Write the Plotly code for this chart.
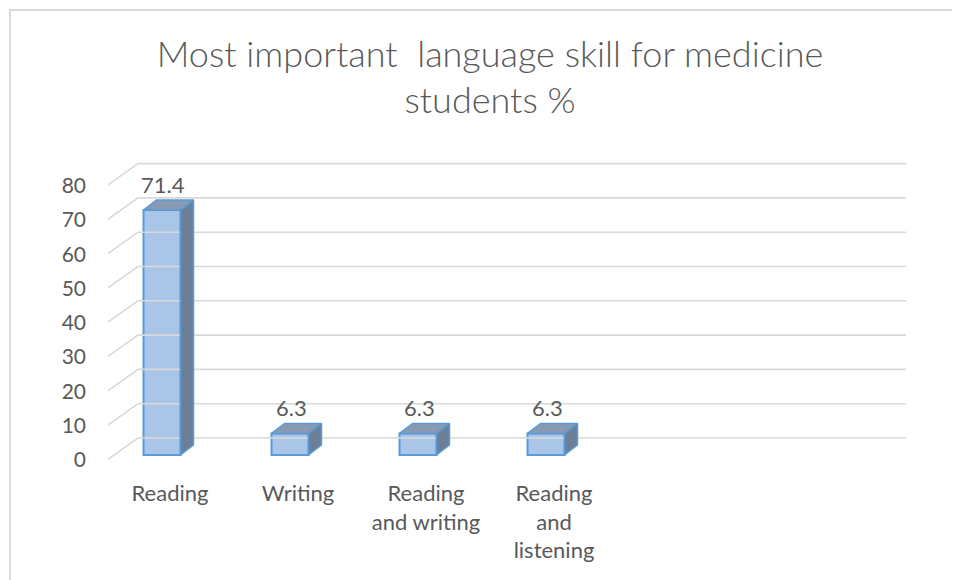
import plotly.graph_objects as go

# ---- data ----
categories = ["Reading", "Writing", "Reading<br>and writing", "Reading<br>and<br>listening"]
values = [71.4, 6.3, 6.3, 6.3]
value_labels = ["71.4", "6.3", "6.3", "6.3"]
y_ticks = [0, 10, 20, 30, 40, 50, 60, 70, 80]
title_text = "Most important  language skill for medicine<br>students %"

# ---- geometry ----
OFF = 8               # page body margin offset
W, H = 960, 580
ML, MR, MT, MB = 100, 50, 150, 110
PX_X = 128.0          # px per category
PX_Y = 3.43           # px per value unit
X0_PX = 162.0 - OFF   # pixel of category 0 front-face centre
Y0_PX = 460.0 - OFF   # pixel of value 0 on front plane
x_range = [(ML - X0_PX) / PX_X, (W - MR - X0_PX) / PX_X]
y_range = [(Y0_PX - (H - MB)) / PX_Y, (Y0_PX - MT) / PX_Y]

wall_dx = 31 / PX_X
wall_dy = 22 / PX_Y
wall_left = (107 - OFF - X0_PX) / PX_X
wall_right = (906 - OFF - X0_PX) / PX_X
bar_base = 5 / PX_Y
bar_w = 37 / PX_X
bar_dx = 13 / PX_X
bar_dy = 10 / PX_Y

GRID = "#d9d9d9"
TXT = "#595959"
FRONT = "#a9c5e8"
EDGE = "#5b9bd5"
SIDE = "#6b7f99"
TOP = "#8799b3"

fig = go.Figure()

# back wall gridlines + left wall diagonals
gx, gy = [], []
for t in y_ticks:
    gx += [wall_left, wall_left + wall_dx, wall_right, None]
    gy += [t, t + wall_dy, t + wall_dy, None]
fig.add_trace(go.Scatter(x=gx, y=gy, mode="lines", line=dict(color=GRID, width=1.6),
                         hoverinfo="skip", showlegend=False))

idx = list(range(len(categories)))

# front faces
fig.add_trace(go.Bar(x=idx, y=values, base=[bar_base] * len(values), width=bar_w,
                     marker=dict(color=FRONT, line=dict(color=EDGE, width=2)),
                     hoverinfo="skip", showlegend=False))

# side and top faces
sx, sy, tx, ty = [], [], [], []
for i, v in zip(idx, values):
    xl, xr = i - bar_w / 2, i + bar_w / 2
    b, t = bar_base, bar_base + v
    sx += [xr, xr + bar_dx, xr + bar_dx, xr, xr, None]
    sy += [b, b + bar_dy, t + bar_dy, t, b, None]
    tx += [xl, xl + bar_dx, xr + bar_dx, xr, xl, None]
    ty += [t, t + bar_dy, t + bar_dy, t, t, None]
fig.add_trace(go.Scatter(x=sx, y=sy, mode="lines", fill="toself", fillcolor=SIDE,
                         line=dict(color=EDGE, width=1.5), hoverinfo="skip", showlegend=False))
fig.add_trace(go.Scatter(x=tx, y=ty, mode="lines", fill="toself", fillcolor=TOP,
                         line=dict(color=EDGE, width=1.5), hoverinfo="skip", showlegend=False))

# value labels
for i, v, lab in zip(idx, values, value_labels):
    fig.add_annotation(x=i + 0.01, y=bar_base + v + bar_dy, text=lab, showarrow=False,
                       yanchor="middle", yshift=16, font=dict(size=22, color=TXT, family="Lato"))

fig.update_layout(
    width=W, height=H,
    margin=dict(l=ML, r=MR, t=MT, b=MB),
    paper_bgcolor="white", plot_bgcolor="white",
    font=dict(family="Lato", color=TXT),
    title=dict(text=title_text, x=(490 - OFF) / W, xanchor="center",
               y=1 - (66.5 - OFF) / H, yanchor="middle",
               font=dict(size=36, color=TXT, family="Lato", weight=300)),
    xaxis=dict(range=x_range, tickmode="array", tickvals=[i + 8 / PX_X for i in idx],
               ticktext=categories, showgrid=False, zeroline=False, showline=False,
               ticks="", tickfont=dict(size=22, color=TXT), ticklabelstandoff=0),
    yaxis=dict(range=y_range, tickmode="array", tickvals=y_ticks,
               ticktext=[str(t) for t in y_ticks], showgrid=False, zeroline=False,
               showline=False, ticks="", tickfont=dict(size=21, color=TXT),
               ticklabelstandoff=21),
    shapes=[dict(type="rect", xref="paper", yref="paper",
                 x0=(10 - OFF - ML) / (W - ML - MR), x1=(975 - ML) / (W - ML - MR),
                 y0=((H - MB) - 600) / (H - MT - MB), y1=((H - MB) - (10 - OFF)) / (H - MT - MB),
                 line=dict(color=GRID, width=2), layer="below")],
)

fig.write_html("out.html")
